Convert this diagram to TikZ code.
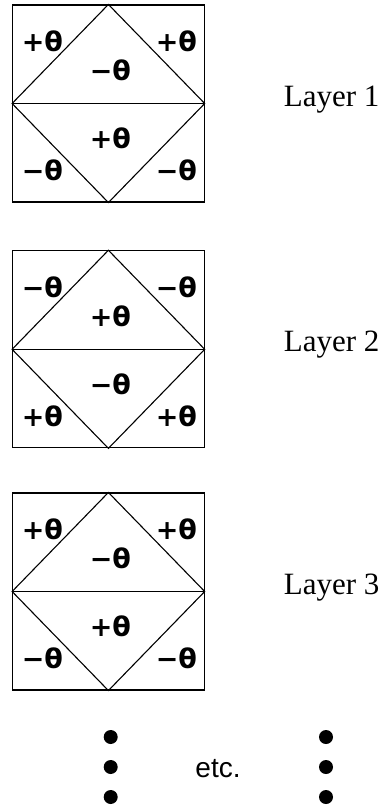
\documentclass[tikz,border=0pt]{standalone}
\usepackage{fontspec}
\setmainfont{Liberation Serif}
\newfontfamily\anglefont{DejaVu Sans}
\newfontfamily\etcfont{Liberation Sans}
\usetikzlibrary{positioning,calc}

\begin{document}
\begin{tikzpicture}[x=1pt,y=-1pt,
    plybox/.style={draw=black,line width=1.1pt,minimum width=191.5pt,
      minimum height=197pt,inner sep=0pt},
    ply/.style={line width=1.1pt},
    plyangle/.style={font=\anglefont\bfseries\fontsize{27}{29}\selectfont,inner sep=0pt},
    layername/.style={font=\fontsize{31}{34}\selectfont,anchor=base west,inner sep=0pt},
    bigdot/.style={circle,fill=black,minimum size=14pt,inner sep=0pt}
  ]
    \useasboundingbox (0,0) rectangle (382,807);
    % one square per ply layer
    \node[plybox] (sq1) at (108.4,103.5) {};
    \node[plybox] (sq2) at (108.4,349.3) {};
    \node[plybox] (sq3) at (108.4,591.5) {};
    \foreach \s/\a/\b/\n in {sq1/+/−/1,sq2/−/+/2,sq3/+/−/3}{
      \draw[ply] (\s.west) -- (\s.north) -- (\s.east) -- (\s.south) -- cycle;
      \draw[ply] (\s.west) -- (\s.east);
      \node[plyangle] (\s tl) at ($(\s.center)+(-66,-62)$) {\a θ};
      \node[plyangle] (\s tr) at ($(\s.center)+(68,-62)$) {\a θ};
      \node[plyangle] (\s ct) at ($(\s.center)+(2,-33)$) {\b θ};
      \node[plyangle] (\s cb) at ($(\s.center)+(2,35)$) {\a θ};
      \node[plyangle] (\s bl) at ($(\s.center)+(-66,67)$) {\b θ};
      \node[plyangle] (\s br) at ($(\s.center)+(68,67)$) {\b θ};
      \node[layername] (\s name) at ($(\s.east)+(79,2.5)$) {Layer \n};
    }
    % continuation marks
    \foreach \y [count=\k] in {737,767,797}{
      \node[bigdot] (dl\k) at (110.7,\y) {};
      \node[bigdot] (dr\k) at (326,\y) {};
    }
    \node[font=\etcfont\fontsize{28}{30}\selectfont,anchor=base,inner sep=0pt]
      (etc) at (218,777) {etc.};
\end{tikzpicture}
\end{document}
